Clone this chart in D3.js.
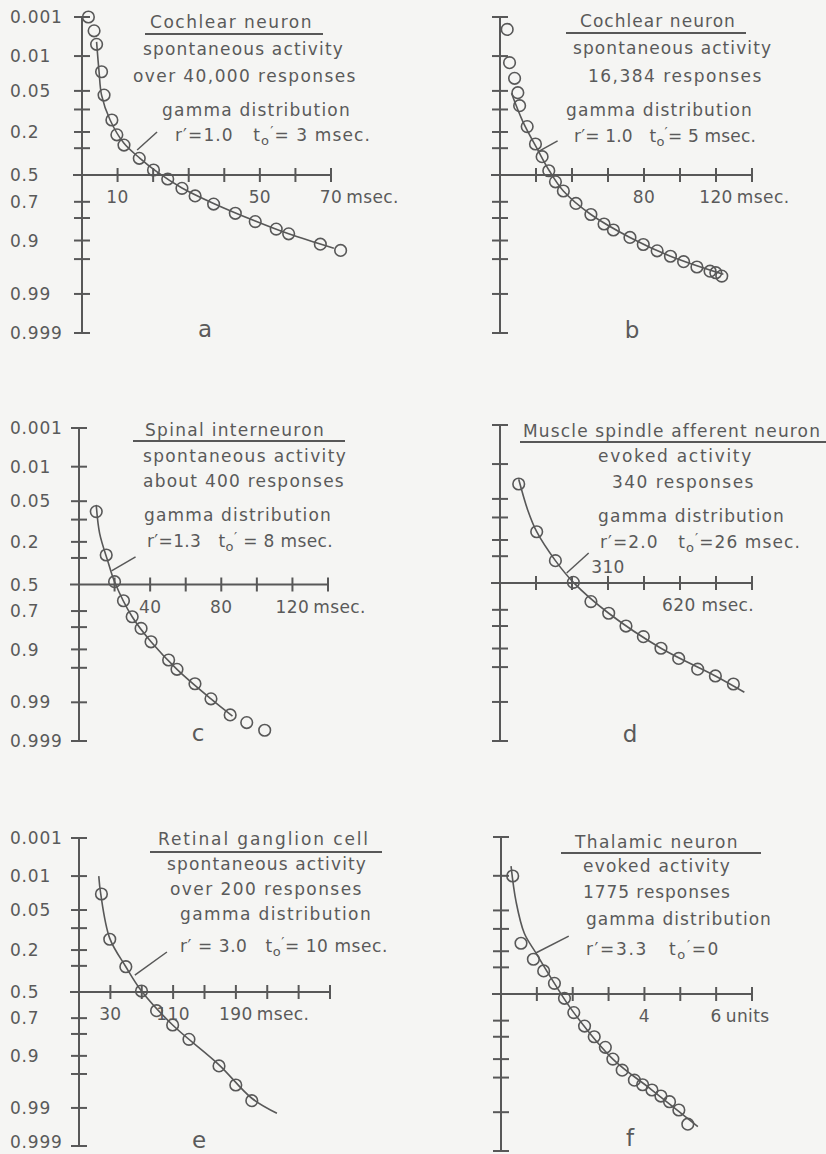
<!DOCTYPE html>
<html>
<head>
<meta charset="utf-8">
<script src="https://cdn.jsdelivr.net/npm/d3@7"></script>
<style>
  html, body { margin: 0; padding: 0; background: #f5f5f3; }
  svg { display: block; }
  text { font-family: "DejaVu Sans", sans-serif; fill: #5a5a5a; font-size: 17px; }
</style>
</head>
<body>
<div id="chart"></div>
<script>
// probability axis (normal probability paper)
const probLabels = [0.001, 0.01, 0.05, 0.2, 0.5, 0.7, 0.9, 0.99, 0.999];
const probMinor = [0.1, 0.3, 0.8, 0.95];

// a: cochlear neuron, spontaneous
const aTicks = [0, 10, 20, 30, 40, 50, 60, 70];
const aLabels = [10, 50, 70];
const aPointT = [1.8, 3.4, 4.1, 5.5, 6.2, 8.4, 9.8, 11.8, 16.1, 20.1, 24.1, 28.1, 31.8, 37, 43.1, 48.7, 54.6, 58.1, 67, 72.7];
const aPointP = [0.001, 0.0024, 0.0053, 0.0217, 0.059, 0.141, 0.216, 0.279, 0.372, 0.461, 0.531, 0.603, 0.659, 0.715, 0.773, 0.819, 0.855, 0.875, 0.912, 0.93];
const aCurveT = [4.1, 4.8, 5.5, 7.9, 11.8, 16.3, 21, 28.1, 37, 48.7, 58.1, 70.8];
const aCurveP = [0.0046, 0.0217, 0.059, 0.141, 0.268, 0.372, 0.474, 0.6, 0.711, 0.816, 0.875, 0.924];
const aPointerT = [15.5, 21.1], aPointerP = [0.312, 0.2];
const aText = ["Cochlear neuron", "spontaneous activity", "over 40,000 responses", "gamma distribution"];
const aParam = ["=1.0", "= 3 msec."];

// b: cochlear neuron, spontaneous
const bTicks = [0, 20, 40, 60, 80, 100, 120, 140];
const bLabels = [80, 120];
const bPointT = [4.0, 5.3, 8.1, 9.9, 10.9, 15.1, 19.7, 23.4, 27.1, 30.8, 35.2, 42.2, 50.5, 57.8, 63, 72.2, 79.6, 87.3, 94.7, 102, 109.4, 116.7, 119.9, 123.2];
const bPointP = [0.0022, 0.014, 0.0293, 0.0537, 0.0876, 0.172, 0.272, 0.36, 0.467, 0.553, 0.623, 0.711, 0.78, 0.831, 0.859, 0.889, 0.913, 0.931, 0.944, 0.955, 0.964, 0.97, 0.972, 0.976];
const bCurveT = [6.4, 12.7, 21, 27.4, 35.2, 50.5, 72.2, 94.7, 124.1];
const bCurveP = [0.055, 0.148, 0.312, 0.467, 0.623, 0.78, 0.889, 0.944, 0.974];
const bPointerT = [21, 32], bPointerP = [0.326, 0.252];
const bText = ["Cochlear neuron", "spontaneous activity", "16,384 responses", "gamma distribution"];
const bParam = ["= 1.0", "= 5 msec."];

// c: spinal interneuron
const cTicks = [0, 20, 40, 60, 80, 100, 120, 140];
const cLabels = [40, 80, 120];
const cPointT = [9.7, 15.3, 20, 25, 29.9, 34.9, 40.5, 50.4, 55.1, 65.2, 74.2, 85, 94.3, 104.4];
const cPointP = [0.075, 0.28, 0.478, 0.626, 0.738, 0.807, 0.871, 0.932, 0.953, 0.975, 0.988, 0.995, 0.9968, 0.998];
const cCurveT = [9.7, 11.6, 16.3, 20, 29.9, 40.5, 55.1, 74.2, 86.3];
const cCurveP = [0.058, 0.156, 0.326, 0.478, 0.738, 0.871, 0.953, 0.988, 0.9953];
const cPointerT = [18.3, 31.8], cPointerP = [0.394, 0.293];
const cText = ["Spinal interneuron", "spontaneous activity", "about 400 responses", "gamma distribution"];
const cParam = ["=1.3", " = 8 msec."];

// d: muscle spindle afferent
const dTicks = [0, 103.3, 206.7, 310, 413.3, 516.7, 620, 723.3];
const dLabels = [310, 620];
const dPointT = [53.7, 105.3, 159, 210.6, 261, 312, 361.6, 411.5, 462, 512.9, 567.4, 618.2, 669.9];
const dPointP = [0.0264, 0.158, 0.331, 0.495, 0.642, 0.723, 0.80, 0.853, 0.899, 0.930, 0.954, 0.9655, 0.9759];
const dCurveT = [53.7, 79.5, 105.3, 159, 210.6, 312, 462, 618.2, 701.4];
const dCurveP = [0.0213, 0.0767, 0.158, 0.331, 0.495, 0.723, 0.899, 0.9655, 0.9837];
const dPointerT = [191.4, 254.6], dPointerP = [0.422, 0.279];
const dText = ["Muscle spindle afferent neuron", "evoked activity", "340 responses", "gamma distribution"];
const dParam = ["=2.0", "=26 msec."];

// e: retinal ganglion cell
const eTicks = [-10, 30, 70, 110, 150, 190, 230, 270, 310];
const eLabels = [30, 110, 190];
const ePointT = [18.6, 29.2, 49.7, 69.7, 88.9, 109.4, 130.2, 168.5, 189.9, 210.3];
const ePointP = [0.0246, 0.145, 0.306, 0.492, 0.646, 0.746, 0.829, 0.931, 0.969, 0.9854];
const eCurveT = [15.2, 17.7, 29.2, 49.7, 69.7, 109.4, 168.5, 210.3, 242.3];
const eCurveP = [0.01, 0.0246, 0.141, 0.306, 0.492, 0.746, 0.928, 0.9835, 0.9925];
const ePointerT = [61.2, 102.1], ePointerP = [0.367, 0.211];
const eText = ["Retinal ganglion cell", "spontaneous activity", "over 200 responses", "gamma distribution"];
const eParam = [" = 3.0", "= 10 msec."];

// f: thalamic neuron
const fTicks = [0, 1, 2, 3, 4, 5, 6, 7];
const fLabels = [4, 6];
const fPointT = [0.326, 0.558, 0.903, 1.19, 1.49, 1.77, 2.03, 2.33, 2.6, 2.91, 3.12, 3.38, 3.72, 3.95, 4.21, 4.46, 4.70, 4.96, 5.21];
const fPointP = [0.0101, 0.159, 0.247, 0.325, 0.417, 0.534, 0.643, 0.736, 0.80, 0.853, 0.90, 0.933, 0.955, 0.963, 0.9706, 0.9777, 0.983, 0.9888, 0.9948];
const fCurveT = [0.28, 0.42, 0.65, 0.98, 1.49, 2.03, 3.12, 4.21, 5.49];
const fCurveP = [0.0059, 0.0346, 0.116, 0.2115, 0.417, 0.643, 0.90, 0.9706, 0.9955];
const fPointerT = [0.97, 1.89], fPointerP = [0.21, 0.127];
const fText = ["Thalamic neuron", "evoked activity", "1775 responses", "gamma distribution"];
const fParam = ["=3.3", "=0"];

// inverse normal cdf (Acklam), used to place probabilities on the axis
function probit(p) {
  const a = [-39.69683028665376, 220.9460984245205, -275.9285104469687, 138.3577518672690, -30.66479806614716, 2.506628277459239];
  const b = [-54.47609879822406, 161.5858368580409, -155.6989798598866, 66.80131188771972, -13.28068155288572];
  const c = [-0.007784894002430293, -0.3223964580411365, -2.400758277161838, -2.549671348529261, 4.374664141464968, 2.938163982698783];
  const d = [0.007784695709041462, 0.3224671290700398, 2.445134137142996, 3.754408661907416];
  const lo = 0.02425;
  let q, r;
  if (p < lo) {
    q = Math.sqrt(-2 * Math.log(p));
    return (((((c[0]*q+c[1])*q+c[2])*q+c[3])*q+c[4])*q+c[5]) / ((((d[0]*q+d[1])*q+d[2])*q+d[3])*q+1);
  }
  if (p <= 1 - lo) {
    q = p - 0.5; r = q * q;
    return (((((a[0]*r+a[1])*r+a[2])*r+a[3])*r+a[4])*r+a[5])*q / (((((b[0]*r+b[1])*r+b[2])*r+b[3])*r+b[4])*r+1);
  }
  q = Math.sqrt(-2 * Math.log(1 - p));
  return -(((((c[0]*q+c[1])*q+c[2])*q+c[3])*q+c[4])*q+c[5]) / ((((d[0]*q+d[1])*q+d[2])*q+d[3])*q+1);
}

const ink = "#585858";
const W = 826, H = 1154;

const svg = d3.select("#chart").append("svg").attr("width", W).attr("height", H);
svg.append("rect").attr("width", W).attr("height", H).attr("fill", "#f5f5f3");

// stretch letter spacing so a text fills the width of the original lettering
function fit(sel, target) {
  const node = sel.node();
  const w = node.getBBox().width;
  const n = node.textContent.length;
  if (n > 1) sel.attr("letter-spacing", ((target - w) / n).toFixed(2));
}

function drawPanel(L, D) {
  const g = svg.append("g");
  const x = d3.scaleLinear().domain([D.ticks[0], D.ticks[D.ticks.length - 1]]).range([L.axisX, L.xEnd]);
  const z = d3.scaleLinear().domain([probit(0.001), probit(0.999)]).range([L.top, L.bottom]);
  const y = p => z(probit(p));
  const y0 = y(0.5);

  // y axis with cross ticks
  g.append("line")
    .attr("x1", L.axisX).attr("x2", L.axisX)
    .attr("y1", L.top).attr("y2", L.bottom)
    .attr("stroke", ink).attr("stroke-width", 2);

  g.selectAll(".ytick")
    .data(probLabels.concat(probMinor).filter(p => p !== 0.5))
    .join("line")
    .attr("x1", L.axisX - 8).attr("x2", L.axisX + 8)
    .attr("y1", d => y(d)).attr("y2", d => y(d))
    .attr("stroke", ink).attr("stroke-width", 2);

  if (L.yLabels) {
    g.selectAll(".ylab")
      .data(probLabels)
      .join("text")
      .attr("x", 10)
      .attr("y", d => Math.min(y(d), H - 12))
      .attr("dy", "0.36em")
      .attr("letter-spacing", 0.8)
      .text(d => String(d));
  }

  // x axis at p = 0.5
  g.append("line")
    .attr("x1", L.axisX - 9).attr("x2", L.xEnd)
    .attr("y1", y0).attr("y2", y0)
    .attr("stroke", ink).attr("stroke-width", 2);

  g.selectAll(".xtick")
    .data(D.ticks.slice(1))
    .join("line")
    .attr("x1", d => x(d)).attr("x2", d => x(d))
    .attr("y1", y0 - 7).attr("y2", y0 + 7)
    .attr("stroke", ink).attr("stroke-width", 2);

  D.labels.forEach((v, i) => {
    const last = i === D.labels.length - 1;
    const above = (L.labelAbove || []).includes(v);
    const ly = above ? y0 - 10 : y0 + 28;
    if (last && L.wholeLabel) {
      g.append("text")
        .attr("x", x(v) + L.wholeLabel).attr("y", ly)
        .attr("text-anchor", "middle")
        .attr("letter-spacing", 0.4)
        .text(v + " " + D.unit);
      return;
    }
    const t = g.append("text")
      .attr("x", x(v)).attr("y", ly)
      .attr("text-anchor", "middle")
      .attr("letter-spacing", 0.4)
      .text(String(v));
    if (last) {
      const bb = t.node().getBBox();
      g.append("text")
        .attr("x", bb.x + bb.width + 4).attr("y", ly)
        .attr("letter-spacing", 0.4)
        .text(D.unit);
    }
  });

  // fitted gamma curve
  const line = d3.line()
    .x(d => x(d[0]))
    .y(d => y(d[1]))
    .curve(d3.curveCatmullRom.alpha(0.5));

  g.append("path")
    .datum(d3.zip(D.curveT, D.curveP))
    .attr("d", line)
    .attr("fill", "none")
    .attr("stroke", ink)
    .attr("stroke-width", 1.6);

  // observed points
  g.selectAll(".pt")
    .data(d3.zip(D.pointT, D.pointP))
    .join("circle")
    .attr("cx", d => x(d[0]))
    .attr("cy", d => y(d[1]))
    .attr("r", 5.8)
    .attr("fill", "none")
    .attr("stroke", ink)
    .attr("stroke-width", 1.6);

  // pointer from curve to the label block
  g.append("line")
    .attr("x1", x(D.pointerT[0])).attr("y1", y(D.pointerP[0]))
    .attr("x2", x(D.pointerT[1])).attr("y2", y(D.pointerP[1]))
    .attr("stroke", ink).attr("stroke-width", 1.5);

  // label block
  const title = g.append("text").attr("x", L.title[0]).attr("y", L.title[1]).text(D.text[0]);
  fit(title, L.title[2]);
  g.append("line")
    .attr("x1", L.rule[0]).attr("x2", L.rule[1])
    .attr("y1", L.rule[2]).attr("y2", L.rule[2])
    .attr("stroke", ink).attr("stroke-width", 1.8);

  L.lines.forEach((p, i) => {
    const t = g.append("text").attr("x", p[0]).attr("y", p[1]).text(D.text[i + 1]);
    fit(t, p[2]);
  });

  // r' and t'0 line: subscript o followed by a raised prime
  const pt = g.append("text").attr("x", L.params[0]).attr("y", L.params[1]);
  pt.append("tspan").text("r\u2032" + D.param[0].replace(/ /g, "\u00a0") + "\u00a0\u00a0\u00a0t");
  pt.append("tspan").attr("dy", 4).attr("font-size", 13).text("o");
  pt.append("tspan").attr("dy", -9).attr("font-size", 14).text("\u2032");
  pt.append("tspan").attr("dy", 5).attr("font-size", 17).text(D.param[1].replace(/ /g, "\u00a0"));
  fit(pt, L.params[2]);

  g.append("text")
    .attr("x", L.letter[0]).attr("y", L.letter[1])
    .attr("text-anchor", "middle")
    .style("font-size", "23px")
    .text(L.id);
}

const layout = [
  { id: "a", axisX: 82, top: 17, bottom: 333, xEnd: 331, yLabels: true, letter: [205, 337],
    title: [150, 28, 163], rule: [145, 323, 34],
    lines: [[143, 55, 201], [133, 82, 224], [162, 116, 189]], params: [175, 141, 196] },
  { id: "b", axisX: 500, top: 17, bottom: 333, xEnd: 752, yLabels: false, letter: [632, 338],
    title: [580, 27, 156], rule: [566, 746, 33],
    lines: [[573, 54, 199], [588, 82, 175], [566, 116, 187]], params: [574, 142, 182] },
  { id: "c", axisX: 79, top: 428, bottom: 741, xEnd: 328, yLabels: true, letter: [198, 741],
    title: [145, 436, 180], rule: [133, 345, 441],
    lines: [[143, 462, 204], [143, 487, 202], [144, 521, 188]], params: [147, 547, 186] },
  { id: "d", axisX: 500, top: 425, bottom: 741, xEnd: 752, yLabels: false, letter: [630, 742],
    title: [523, 437, 298], rule: [520, 826, 442], labelAbove: [310], wholeLabel: -8,
    lines: [[598, 462, 155], [612, 488, 143], [598, 522, 187]], params: [600, 548, 201] },
  { id: "e", axisX: 79, top: 838, bottom: 1146, xEnd: 330, yLabels: true, letter: [199, 1148],
    title: [158, 845, 212], rule: [150, 382, 852],
    lines: [[167, 870, 200], [170, 895, 193], [180, 920, 192]], params: [180, 952, 208] },
  { id: "f", axisX: 501, top: 837, bottom: 1151, xEnd: 752, yLabels: false, letter: [630, 1146],
    title: [575, 848, 165], rule: [561, 761, 853],
    lines: [[583, 872, 148], [583, 898, 148], [586, 925, 186]], params: [586, 955, 134] }
];

const panelData = {
  a: { ticks: aTicks, labels: aLabels, unit: "msec.", pointT: aPointT, pointP: aPointP, curveT: aCurveT, curveP: aCurveP, pointerT: aPointerT, pointerP: aPointerP, text: aText, param: aParam },
  b: { ticks: bTicks, labels: bLabels, unit: "msec.", pointT: bPointT, pointP: bPointP, curveT: bCurveT, curveP: bCurveP, pointerT: bPointerT, pointerP: bPointerP, text: bText, param: bParam },
  c: { ticks: cTicks, labels: cLabels, unit: "msec.", pointT: cPointT, pointP: cPointP, curveT: cCurveT, curveP: cCurveP, pointerT: cPointerT, pointerP: cPointerP, text: cText, param: cParam },
  d: { ticks: dTicks, labels: dLabels, unit: "msec.", pointT: dPointT, pointP: dPointP, curveT: dCurveT, curveP: dCurveP, pointerT: dPointerT, pointerP: dPointerP, text: dText, param: dParam },
  e: { ticks: eTicks, labels: eLabels, unit: "msec.", pointT: ePointT, pointP: ePointP, curveT: eCurveT, curveP: eCurveP, pointerT: ePointerT, pointerP: ePointerP, text: eText, param: eParam },
  f: { ticks: fTicks, labels: fLabels, unit: "units", pointT: fPointT, pointP: fPointP, curveT: fCurveT, curveP: fCurveP, pointerT: fPointerT, pointerP: fPointerP, text: fText, param: fParam }
};

layout.forEach(L => drawPanel(L, panelData[L.id]));
</script>
</body>
</html>
